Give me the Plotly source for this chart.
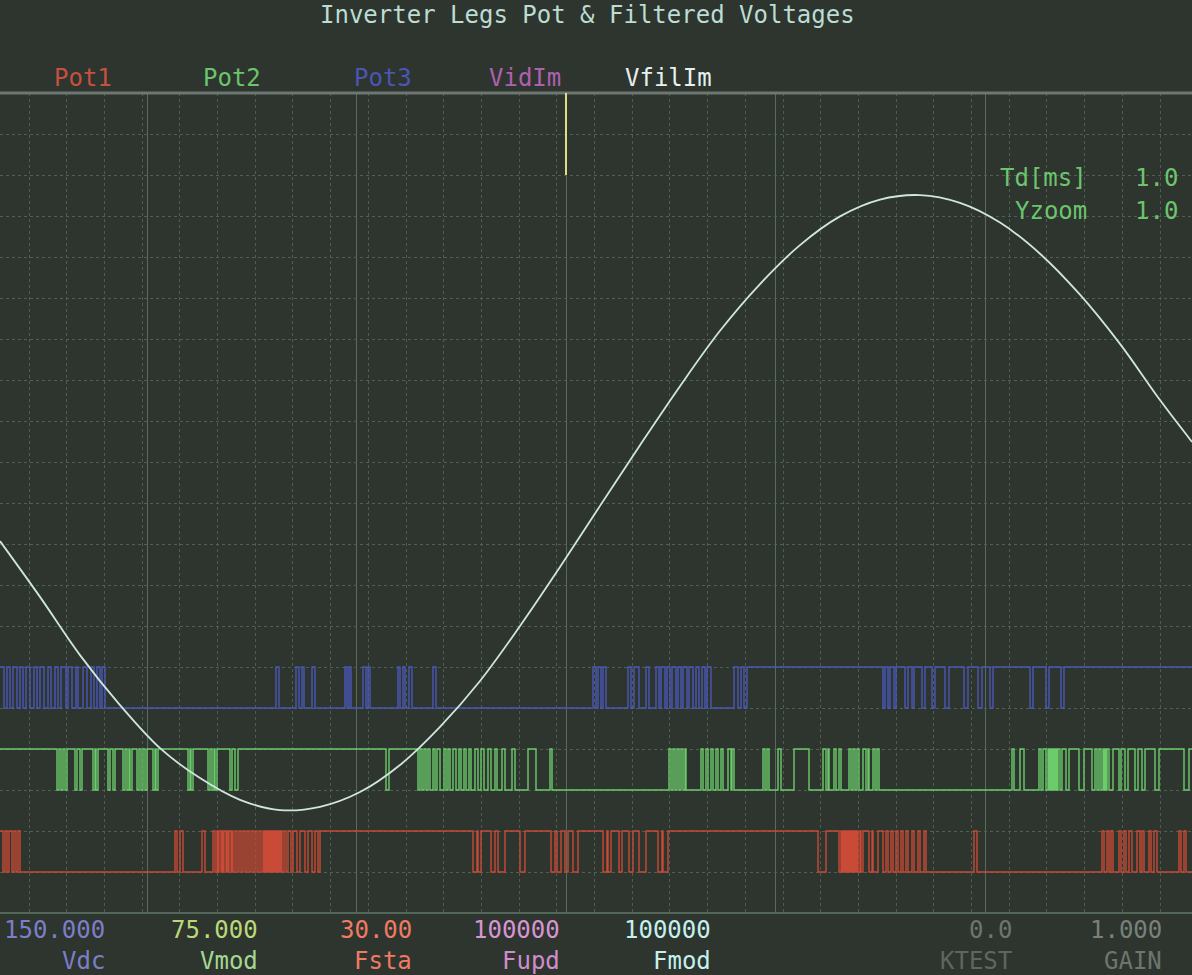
import plotly.graph_objects as go

# ---------------- data ----------------
# horizontal position of each sample across the screen (0 .. 1192)
X_END = 1192

# filtered leg voltage VfilIm (vertical divisions, 0 = screen centre)
vfil_x = [0, 40, 80, 120, 160, 200, 240, 280, 320, 360, 400, 440, 480, 520, 560,
          600, 640, 680, 720, 760, 800, 840, 880, 920, 960, 1000, 1040, 1080, 1120,
          1160, 1192]
vfil_y = [-0.93, -2.29, -3.71, -4.93, -5.98, -6.71, -7.24, -7.49, -7.41, -7.05, -6.39,
          -5.46, -4.34, -3.00, -1.56, -0.07, 1.41, 2.85, 4.20, 5.34, 6.29, 6.99, 7.40,
          7.51, 7.32, 6.84, 6.08, 5.08, 3.88, 2.51, 1.49]

# leg switching states: intervals (start, end) where the leg is ON
pot1_on = [(0, 3), (5, 7), (9, 12), (14, 16), (18, 20),
           (175, 177), (180, 183), (202, 205),
           (213, 215), (217, 218), (219, 221), (222, 223), (224, 226), (227, 228), (229, 231),
           (232, 233), (235, 237), (239, 241), (243, 245), (247, 249), (251, 253), (255, 257),
           (259, 261), (263, 264), (265, 266), (267, 268), (269, 270), (271, 272), (273, 274),
           (275, 276), (277, 278), (279, 280), (281, 282), (284, 286), (288, 291), (293, 297),
           (300, 305), (308, 312), (315, 318), (320, 473),
           (477, 478), (481, 491), (495, 498), (505, 520), (525, 551), (555, 557), (561, 565),
           (568, 573), (578, 603), (607, 608), (611, 619), (622, 629), (633, 639), (646, 658),
           (662, 663), (668, 818),
           (826, 839), (841, 842), (843, 844), (845, 846), (847, 848), (849, 850), (851, 852),
           (853, 854), (855, 856), (857, 858), (860, 861), (863, 869), (872, 873), (878, 883),
           (886, 888), (891, 893), (896, 898), (901, 903), (906, 908), (912, 914), (918, 920),
           (924, 926),
           (974, 977),
           (1102, 1104), (1107, 1109), (1111, 1113), (1119, 1121), (1124, 1126), (1129, 1132),
           (1137, 1140), (1142, 1144), (1149, 1151), (1154, 1157), (1179, 1181), (1184, 1186)]

pot2_on = [(0, 57), (59, 61), (63, 65), (67, 75), (77, 80), (82, 93), (95, 96), (98, 108),
           (110, 113), (115, 123), (125, 127), (129, 130), (132, 137), (139, 141), (143, 145),
           (147, 153), (155, 156), (158, 188), (190, 191), (193, 208), (210, 212), (214, 215),
           (217, 230), (232, 235), (238, 386), (389, 418),
           (420, 422), (424, 426), (428, 430), (433, 435), (437, 440), (444, 446), (448, 450),
           (453, 456), (459, 461), (464, 466), (469, 471), (475, 478), (481, 484), (488, 491),
           (495, 497), (502, 505), (512, 515), (528, 536), (550, 552),
           (669, 671), (673, 675), (677, 679), (681, 683), (685, 686), (701, 703), (706, 708),
           (711, 713), (716, 718), (721, 723), (728, 731), (732, 734), (763, 765), (767, 769),
           (778, 781), (794, 809), (823, 826), (828, 829), (834, 836), (839, 841), (849, 851),
           (853, 855), (857, 859), (863, 866), (868, 869), (873, 875), (877, 879),
           (1012, 1014), (1020, 1024), (1039, 1041), (1043, 1046), (1048, 1049), (1050, 1051),
           (1052, 1053), (1054, 1055), (1056, 1057), (1058, 1060), (1062, 1066), (1069, 1079),
           (1084, 1092), (1095, 1097), (1099, 1101), (1103, 1104), (1105, 1106), (1107, 1109),
           (1113, 1119), (1121, 1125), (1128, 1135), (1138, 1142), (1145, 1155), (1159, 1184),
           (1189, 1192)]

pot3_on = [(0, 4), (7, 10), (13, 17), (20, 23), (26, 30), (34, 37), (40, 44), (48, 51),
           (55, 58), (61, 66), (68, 72), (76, 78), (83, 87), (91, 94), (97, 100), (102, 105),
           (276, 279), (296, 299), (302, 304), (312, 315), (345, 347), (349, 351), (363, 366),
           (368, 370), (398, 400), (403, 405), (409, 412), (433, 436),
           (593, 596), (598, 601), (603, 606), (628, 631), (634, 639), (646, 649), (656, 659),
           (661, 665), (667, 670), (672, 676), (678, 681), (683, 687), (689, 693), (696, 699),
           (702, 705), (707, 711), (734, 738), (741, 744), (747, 883),
           (885, 888), (890, 894), (896, 905), (908, 912), (914, 922), (925, 932), (935, 945),
           (949, 964), (968, 978), (982, 990), (993, 1030), (1033, 1046), (1049, 1061),
           (1064, 1192)]

# (off level, on level) of each leg trace in divisions
pot1_levels = (-9, -8)
pot2_levels = (-7, -6)
pot3_levels = (-5, -4)

# parameter read-outs along the bottom
param_values = ["150.000", "75.000", "30.00", "100000", "100000", "0.0", "1.000"]
param_names = ["Vdc", "Vmod", "Fsta", "Fupd", "Fmod", "KTEST", "GAIN"]
param_right = [107, 260, 414, 562, 713, 1014, 1164]
param_value_colors = ["#7c7ec8", "#bcd878", "#f07a62", "#d894d4", "#c4f0ee", "#6e756f", "#7a817a"]
param_name_colors = ["#7c7ec8", "#a4d890", "#f07a62", "#d08ccc", "#c4f0ee", "#5f665f", "#6e756e"]

legend_names = ["Pot1", "Pot2", "Pot3", "VidIm", "VfilIm"]
legend_left = [52, 201, 352, 487, 623]
legend_colors = ["#c8503e", "#6cc46c", "#4a56b4", "#b060b0", "#e6f0ee"]

# ---------------- styling ----------------
BG = "#2d352e"
FONT = "DejaVu Sans Mono"
W, H = 1192, 975
TOP, BOTTOM = 93, 913


def step_series(intervals, levels):
    off, on = levels
    xs, ys = [0], [off]
    for a, b in intervals:
        if a <= 0:
            ys[0] = on
        else:
            xs.append(a)
            ys.append(on)
        if b < X_END:
            xs.append(b)
            ys.append(off)
    xs.append(X_END)
    ys.append(ys[-1])
    return xs, ys


fig = go.Figure()

for name, on, lv, col in [("Pot3", pot3_on, pot3_levels, "#4a58b8"),
                          ("Pot2", pot2_on, pot2_levels, "#6ccc6c"),
                          ("Pot1", pot1_on, pot1_levels, "#c94a36")]:
    sx, sy = step_series(on, lv)
    fig.add_trace(go.Scatter(x=sx, y=sy, mode="lines", name=name,
                             line=dict(color=col, width=1.4, shape="hv"),
                             hoverinfo="skip"))

fig.add_trace(go.Scatter(x=vfil_x, y=vfil_y, mode="lines", name="VfilIm",
                         line=dict(color="#cfe6de", width=1.8, shape="spline", smoothing=1.0),
                         hoverinfo="skip"))


def ypix(p):
    # paper coordinate of a screen row
    return (BOTTOM - p) / (BOTTOM - TOP)


annotations = []
annotations.append(dict(x=587, y=ypix(15), xref="x", yref="paper",
                        text="Inverter Legs Pot & Filtered Voltages", showarrow=False,
                        xanchor="center", yanchor="middle",
                        font=dict(family=FONT, size=24, color="#bcdcd4")))
for t, xl, c in zip(legend_names, legend_left, legend_colors):
    annotations.append(dict(x=xl, y=ypix(78), xref="x", yref="paper", text=t,
                            showarrow=False, xanchor="left", yanchor="middle",
                            font=dict(family=FONT, size=24, color=c)))
for t, yp in [("Td[ms]", 178), ("Yzoom", 211)]:
    annotations.append(dict(x=1089, y=ypix(yp), xref="x", yref="paper", text=t,
                            showarrow=False, xanchor="right", yanchor="middle",
                            font=dict(family=FONT, size=24, color="#6cc46c")))
    annotations.append(dict(x=1180, y=ypix(yp), xref="x", yref="paper", text="1.0",
                            showarrow=False, xanchor="right", yanchor="middle",
                            font=dict(family=FONT, size=24, color="#6cc46c")))
for v, n, xr, cv, cn in zip(param_values, param_names, param_right,
                            param_value_colors, param_name_colors):
    annotations.append(dict(x=xr, y=ypix(930), xref="x", yref="paper", text=v,
                            showarrow=False, xanchor="right", yanchor="middle",
                            font=dict(family=FONT, size=24, color=cv)))
    annotations.append(dict(x=xr, y=ypix(961), xref="x", yref="paper", text=n,
                            showarrow=False, xanchor="right", yanchor="middle",
                            font=dict(family=FONT, size=24, color=cn)))

shapes = [
    # screen frame
    dict(type="line", xref="paper", yref="paper", x0=0, x1=1, y0=1, y1=1,
         line=dict(color="#6f7772", width=3)),
    dict(type="line", xref="paper", yref="paper", x0=0, x1=1, y0=0, y1=0,
         line=dict(color="#52665a", width=2)),
    # trigger cursor
    dict(type="line", xref="x", yref="y", x0=566, x1=566, y0=8, y1=10,
         line=dict(color="#dede84", width=2)),
]

fig.update_layout(
    width=W, height=H,
    margin=dict(l=0, r=0, t=TOP, b=H - BOTTOM, pad=0),
    paper_bgcolor=BG, plot_bgcolor=BG,
    showlegend=False,
    annotations=annotations,
    shapes=shapes,
    xaxis=dict(range=[0, X_END], showticklabels=False, ticks="", zeroline=False,
               showline=False, tick0=147, dtick=209.5, showgrid=True,
               gridcolor="#5a6a5e", gridwidth=1.2,
               minor=dict(tick0=29, dtick=37.7, showgrid=True, gridcolor="#4d5e51",
                          gridwidth=1, griddash="dot")),
    yaxis=dict(range=[-10, 10], showticklabels=False, ticks="", zeroline=False,
               showline=False, tick0=0, dtick=1, showgrid=True,
               gridcolor="#4f6053", gridwidth=1, griddash="dot"),
)

fig.write_html("out.html")
